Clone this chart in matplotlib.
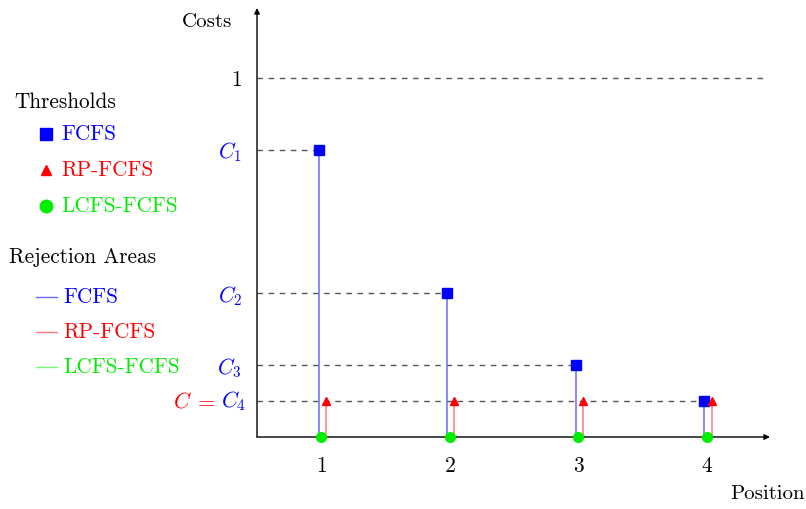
import matplotlib.pyplot as plt
from matplotlib.lines import Line2D

plt.rcParams['font.family'] = 'serif'
plt.rcParams['font.serif'] = ['cmr10', 'DejaVu Serif']
plt.rcParams['mathtext.fontset'] = 'cm'
plt.rcParams['axes.formatter.use_mathtext'] = True

# Positions and threshold values
positions = [1, 2, 3, 4]
fcfs_thresholds = [0.8, 0.4, 0.2, 0.1]
rp_thresholds = [0.1, 0.1, 0.1, 0.1]
lcfs_thresholds = [0.0, 0.0, 0.0, 0.0]
ytick_values = [1.0, 0.8, 0.4, 0.2]
ytick_labels = ['$1$', '$C_1$', '$C_2$', '$C_3$']

fig = plt.figure(figsize=(8.06, 5.09), dpi=100)
ax = fig.add_axes([257 / 806, 72 / 509, 513 / 806, 429 / 509])
ax.set_xlim(0.5, 4.49)
ax.set_ylim(0, 1.195)

blue_off = -0.02
red_off = 0.035

# dashed guide lines
ax.plot([0.5, 4.45], [1, 1], ls=(0, (4, 4)), color='#555555', lw=1)
for p, c in zip(positions, fcfs_thresholds):
    ax.plot([0.5, p + blue_off], [c, c], ls=(0, (4, 4)), color='#555555', lw=1)

# rejection areas (stems)
for p, c in zip(positions, fcfs_thresholds):
    ax.plot([p + blue_off, p + blue_off], [0, c], color='#6a6aff', lw=1.1)
for p, c in zip(positions, rp_thresholds):
    ax.plot([p + red_off, p + red_off], [0, c], color='#ff7a7a', lw=1.1)

# thresholds (markers)
ax.plot([p + blue_off for p in positions], fcfs_thresholds, 's', color='blue', ms=7, clip_on=False, zorder=5)
ax.plot([p + red_off for p in positions], rp_thresholds, '^', color='red', ms=6, clip_on=False, zorder=5)
ax.plot(positions, lcfs_thresholds, 'o', color='#00ee00', ms=7, clip_on=False, zorder=6)

# axes with arrows
for s in ax.spines.values():
    s.set_visible(False)
ax.annotate('', xy=(1.0, 0), xytext=(0, 0), xycoords='axes fraction',
            arrowprops=dict(arrowstyle='-|>', color='black', lw=1, mutation_scale=8, shrinkA=0, shrinkB=0))
ax.annotate('', xy=(0, 1.0), xytext=(0, 0), xycoords='axes fraction',
            arrowprops=dict(arrowstyle='-|>', color='black', lw=1, mutation_scale=8, shrinkA=0, shrinkB=0))

ax.set_xticks(positions)
ax.set_xticklabels([str(p) for p in positions], fontsize=15.5)
ax.set_yticks(ytick_values)
ax.set_yticklabels(ytick_labels, fontsize=15.5)
ax.tick_params(length=0, pad=11)
ax.tick_params(axis='x', pad=14)
for t in ax.get_yticklabels()[1:]:
    t.set_color('blue')

# C = C4 label
y4 = 1 - 401 / 509
fig.text(246 / 806, y4, '$C_4$', color='blue', fontsize=16, ha='right', va='center')
fig.text(216 / 806, y4, '$=$', color='red', fontsize=16, ha='right', va='center')
fig.text(192 / 806, y4, '$C$', color='red', fontsize=16, ha='right', va='center')

fig.text(207 / 806, 1 - 22 / 509, 'Costs', fontsize=15, ha='center', va='center')
fig.text(768 / 806, 1 - 494 / 509, 'Position', fontsize=15, ha='center', va='center')

# legend (drawn by hand)
fig.text(14 / 806, 1 - 102 / 509, 'Thresholds', fontsize=15.3, va='center')
leg_marks = [('s', 'blue', 'FCFS'), ('^', 'red', 'RP-FCFS'), ('o', '#00ee00', 'LCFS-FCFS')]
for i, (m, col, lab) in enumerate(leg_marks):
    y = 1 - (134 + 36 * i) / 509
    fig.add_artist(Line2D([46 / 806], [y], marker=m, color=col, ms=9 if m != '^' else 7,
                          transform=fig.transFigure))
    fig.text(61 / 806, y, lab, color=col, fontsize=15.3, va='center')

fig.text(9 / 806, 1 - 257 / 509, 'Rejection Areas', fontsize=15.3, va='center')
leg_lines = [('#6a6aff', 'blue', 'FCFS'), ('#ff7a7a', 'red', 'RP-FCFS'), ('#70ff70', '#00ee00', 'LCFS-FCFS')]
for i, (lc, col, lab) in enumerate(leg_lines):
    y = 1 - (297 + 35 * i) / 509
    fig.add_artist(Line2D([36 / 806, 57 / 806], [y, y], color=lc, lw=1, transform=fig.transFigure))
    fig.text(63 / 806, y, lab, color=col, fontsize=15.3, va='center')

fig.savefig('out.png', dpi=100)
